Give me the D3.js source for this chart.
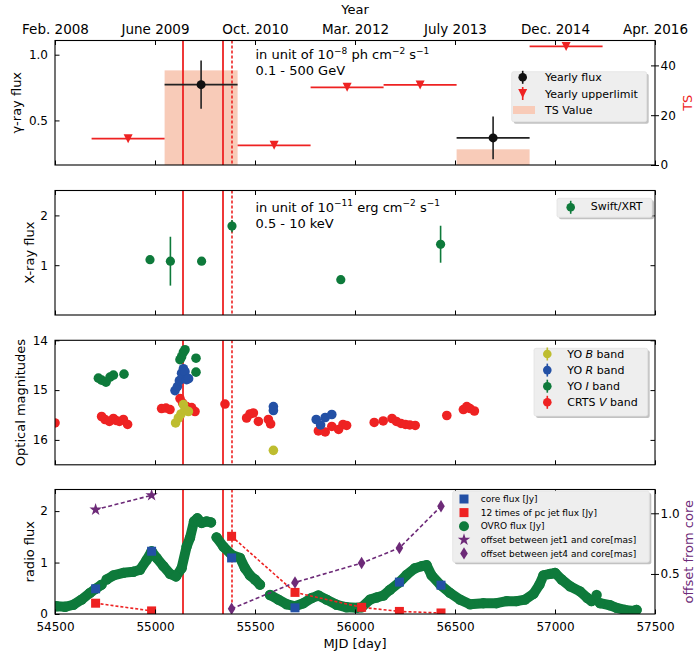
<!DOCTYPE html>
<html><head><meta charset="utf-8">
<script src="https://cdn.jsdelivr.net/npm/d3@7"></script>
<style>body{margin:0;background:#fff} svg{display:block} text{font-family:"DejaVu Sans",sans-serif}</style>
</head><body><svg id="c" width="694" height="654"></svg>
<script>
// ---------------- data ----------------
const mjdTicks=[54500,55000,55500,56000,56500,57000,57500];
const yearLabels=["Feb. 2008","June 2009","Oct. 2010","Mar. 2012","July 2013","Dec. 2014","Apr. 2016"];
const flareSolid=[55140,55340];
const flareDashed=[55385];

// gamma-ray yearly bins
const gammaFluxStart=[55048,56508];
const gammaFluxEnd=[55413,56873];
const gammaFluxVal=[0.772,0.367];
const gammaFluxErr=[0.183,0.162];
const gammaULStart=[54683,55413,55778,56143,56873];
const gammaULEnd=[55048,55778,56143,56508,57238];
const gammaULVal=[0.361,0.311,0.752,0.77,1.063];
const tsStart=[55048,56508];
const tsEnd=[55413,56873];
const tsVal=[38,6.3];

// X-ray (Swift/XRT)
const xrayMJD=[54975,55077,55233,55385,55929,56428];
const xrayFlux=[1.11,1.08,1.08,1.785,0.71,1.42];
const xrayErr=[0.03,0.49,0.03,0.125,0.03,0.37];

// optical magnitudes
const bMJD=[55103,55117,55130,55142,55150,55167,55592];
const bMag=[15.66,15.56,15.48,15.29,15.39,15.43,16.21];
const rMJD=[55100,55112,55122,55133,55142,55150,55158,55168,55592,55592,55806,55828,55851,55884];
const rMag=[15.01,14.93,14.81,14.66,14.57,14.63,14.79,14.77,15.33,15.41,15.59,15.7,15.55,15.49];
const iMJD=[54717,54733,54755,54775,54792,54845,55125,55133,55142,55150,55205,55205];
const iMag=[14.76,14.8,14.84,14.74,14.7,14.68,14.39,14.33,14.24,14.19,14.36,14.64];
const vMJD=[54500,54733,54750,54772,54792,54805,54822,54842,54863,55033,55055,55075,55125,55138,55158,55183,55200,55350,
  55458,55475,55492,55517,55567,55578,55817,55851,55884,55918,55940,55958,56096,56141,56185,56207,56230,56252,56274,56301,
  56459,56542,56559,56575,56597];
const vMag=[15.66,15.53,15.59,15.63,15.57,15.61,15.63,15.59,15.69,15.37,15.36,15.39,15.17,15.26,15.33,15.35,15.43,15.28,
  15.56,15.48,15.46,15.63,15.59,15.68,15.82,15.84,15.73,15.79,15.69,15.71,15.65,15.62,15.57,15.63,15.67,15.69,15.7,15.71,
  15.51,15.39,15.33,15.37,15.42];

// radio
const ovroMJD=[54508,54550,54592,54633,54675,54703,54733,
  54758,54792,54842,54892,54925,54958,54983,55008,55042,55075,55105,55133,55158,55175,55195,55212,55233,55258,55280,
  55308,55342,55383,55425,55450,55475,55500,55525,
  55575,55617,55658,55700,55742,55783,55817,55858,55908,55958,56008,56033,56075,56108,56142,56175,56220,56258,56300,56333,56358,
  56383,56428,56475,56525,56575,56642,56708,56758,56808,56850,56892,56922,56942,56975,57000,57033,57075,57125,57162,57183,
  57208,
  57225,57275,57308,57350,57392,57408];
const ovroFlux=[0.15,0.14,0.18,0.28,0.41,0.49,0.57,
  0.67,0.75,0.8,0.82,0.86,1.05,1.22,1.09,0.93,0.78,0.73,0.89,1.31,1.48,1.8,1.86,1.77,1.8,1.78,
  1.49,1.31,1.15,1.09,0.89,0.75,0.67,0.57,
  0.37,0.28,0.19,0.15,0.21,0.31,0.36,0.28,0.18,0.13,0.12,0.13,0.28,0.32,0.36,0.47,0.61,0.76,0.89,0.93,0.95,
  0.75,0.56,0.41,0.28,0.19,0.21,0.21,0.25,0.25,0.28,0.39,0.57,0.75,0.78,0.8,0.67,0.54,0.44,0.31,0.25,
  0.37,
  0.21,0.17,0.12,0.08,0.06,0.08];
const ovroBreaks=[54745,55294,55550,57195,57215];
const coreMJD=[54703,54983,55383,55700,56222,56430];
const coreFlux=[0.49,1.22,1.09,0.12,0.62,0.56];
const jet1MJD=[54703,54983];
const jet1Flux12=[0.21,0.06];
const jet1Offset=[1.03,1.148];
const jet4MJD=[55383,55700,56033,56222,56430];
const jet4Flux12=[1.51,0.42,0.13,0.05,0.02];
const jet4Offset=[0.214,0.43,0.59,0.714,1.058];

// ---------------- drawing ----------------
const RED="#ee2222", GREEN="#0e7a3b", BLUE="#2350a5", OLIVE="#bebd2f", PURPLE="#6d2a78", TSCOL="#f8cbb8";
const svg=d3.select("#c");
const L=55,R=655,PH=124.5;
const tops=[40.5,190.5,340.3,489.5];
const x=d3.scaleLinear().domain([54500,57500]).range([L,R]);
const y1=d3.scaleLinear().domain([0.161,1.108]).range([tops[0]+PH,tops[0]]);
const y1r=d3.scaleLinear().domain([0,50]).range([tops[0]+PH,tops[0]]);
const y2=d3.scaleLinear().domain([0,2.5]).range([tops[1]+PH,tops[1]]);
const y3=d3.scaleLinear().domain([16.5,14]).range([tops[2]+PH,tops[2]]);
const y4=d3.scaleLinear().domain([0,2.42]).range([tops[3]+PH,tops[3]]);
const y4r=d3.scaleLinear().domain([0.17,1.196]).range([tops[3]+PH,tops[3]]);

const defs=svg.append("defs");
tops.forEach((t,i)=>{
  defs.append("clipPath").attr("id","clip"+i).append("rect").attr("x",L).attr("y",t).attr("width",R-L).attr("height",PH);
});
const layers=tops.map((t,i)=>svg.append("g").attr("clip-path",`url(#clip${i})`));

function style(g,fs){
  g.attr("font-size",fs).attr("font-family","DejaVu Sans");
  g.select(".domain").remove();
  g.selectAll("text").attr("fill","#000");
}

// axes
tops.forEach((t,i)=>{
  const b=t+PH;
  svg.append("g").attr("transform",`translate(0,${b})`)
    .call(d3.axisBottom(x).tickValues(mjdTicks).tickSize(-4.5).tickPadding(8.5)
      .tickFormat(i===3?d3.format("d"):()=>""))
    .call(g=>style(g,12));
  svg.append("g").attr("transform",`translate(0,${t})`)
    .call(d3.axisTop(x).tickValues(mjdTicks).tickSize(-4.5).tickPadding(6.5)
      .tickFormat(i===0?(d,j)=>yearLabels[j]:()=>""))
    .call(g=>style(g,13.5));
});
function leftAxis(i,ys,vals,fmt,rightToo){
  svg.append("g").attr("transform",`translate(${L},0)`)
    .call(d3.axisLeft(ys).tickValues(vals).tickSize(-4.5).tickPadding(7).tickFormat(fmt))
    .call(g=>style(g,12));
  if(rightToo){
    svg.append("g").attr("transform",`translate(${R},0)`)
      .call(d3.axisRight(ys).tickValues(vals).tickSize(-4.5).tickFormat(()=>""))
      .call(g=>style(g,12));
  }
}
function rightAxis(ys,vals,fmt){
  const g=svg.append("g").attr("transform",`translate(${R},0)`)
    .call(d3.axisRight(ys).tickValues(vals).tickSize(4).tickPadding(1.5).tickFormat(fmt))
    .call(g=>style(g,12));
  g.selectAll(".tick line").attr("x1",-4);
}
leftAxis(0,y1,[0.5,1.0],d3.format(".1f"),false);
rightAxis(y1r,[0,20,40],d3.format("d"));
leftAxis(1,y2,[1,2],d3.format("d"),true);
leftAxis(2,y3,[14,15,16],d3.format("d"),true);
leftAxis(3,y4,[0,1,2],d3.format("d"),false);
rightAxis(y4r,[0.5,1.0],d3.format(".1f"));

// ---- panel 1 ----
const g1=layers[0];
tsVal.forEach((v,k)=>{
  g1.append("rect").attr("x",x(tsStart[k])).attr("width",x(tsEnd[k])-x(tsStart[k]))
    .attr("y",y1r(v)).attr("height",y1r(0)-y1r(v)).attr("fill",TSCOL);
});
// flare lines in all panels
tops.forEach((t,i)=>{
  flareSolid.forEach(m=>layers[i].append("line").attr("x1",x(m)).attr("x2",x(m)).attr("y1",t).attr("y2",t+PH)
    .attr("stroke",RED).attr("stroke-width",1.8));
  flareDashed.forEach(m=>layers[i].append("line").attr("x1",x(m)).attr("x2",x(m)).attr("y1",t).attr("y2",t+PH)
    .attr("stroke",RED).attr("stroke-width",1.6).attr("stroke-dasharray","3,2"));
});
const triDown="M-4.5,-4.5L4.5,-4.5L0,4.5Z";
gammaULVal.forEach((v,k)=>{
  g1.append("line").attr("x1",x(gammaULStart[k])).attr("x2",x(gammaULEnd[k])).attr("y1",y1(v)).attr("y2",y1(v))
    .attr("stroke",RED).attr("stroke-width",1.8);
  g1.append("path").attr("d",triDown).attr("fill",RED)
    .attr("transform",`translate(${x((gammaULStart[k]+gammaULEnd[k])/2)},${y1(v)})`);
});
gammaFluxVal.forEach((v,k)=>{
  const cx=x((gammaFluxStart[k]+gammaFluxEnd[k])/2);
  g1.append("line").attr("x1",x(gammaFluxStart[k])).attr("x2",x(gammaFluxEnd[k])).attr("y1",y1(v)).attr("y2",y1(v))
    .attr("stroke","#222").attr("stroke-width",1.6);
  g1.append("line").attr("x1",cx).attr("x2",cx).attr("y1",y1(v-gammaFluxErr[k])).attr("y2",y1(v+gammaFluxErr[k]))
    .attr("stroke","#222").attr("stroke-width",1.6);
  g1.append("circle").attr("cx",cx).attr("cy",y1(v)).attr("r",4.5).attr("fill","#111");
});

// ---- panel 2 ----
const g2=layers[1];
xrayFlux.forEach((v,k)=>{
  g2.append("line").attr("x1",x(xrayMJD[k])).attr("x2",x(xrayMJD[k]))
    .attr("y1",y2(v-xrayErr[k])).attr("y2",y2(v+xrayErr[k])).attr("stroke",GREEN).attr("stroke-width",1.6);
  g2.append("circle").attr("cx",x(xrayMJD[k])).attr("cy",y2(v)).attr("r",4.6).attr("fill",GREEN);
});

// ---- panel 3 ----
const g3=layers[2];
function dots(g,ms,vs,ys,col,r){
  g.append("g").selectAll("circle").data(ms).join("circle")
    .attr("cx",d=>x(d)).attr("cy",(d,k)=>ys(vs[k])).attr("r",r).attr("fill",col);
}
dots(g3,vMJD,vMag,y3,RED,4.8);
dots(g3,bMJD,bMag,y3,OLIVE,4.8);
dots(g3,rMJD,rMag,y3,BLUE,4.8);
dots(g3,iMJD,iMag,y3,GREEN,4.8);

// ---- panel 4 ----
const g4=layers[3];
const segs=[];let cur=[];
ovroMJD.forEach((m,k)=>{
  if(k>0 && ovroBreaks.some(b=>b>ovroMJD[k-1] && b<m)){segs.push(cur);cur=[];}
  cur.push([m,ovroFlux[k]]);
});
segs.push(cur);
const line4=d3.line().x(d=>x(d[0])).y(d=>y4(d[1]));
segs.forEach(s=>{
  if(s.length>1) g4.append("path").attr("d",line4(s)).attr("fill","none").attr("stroke",GREEN)
    .attr("stroke-width",10).attr("stroke-linecap","round").attr("stroke-linejoin","round");
});
dots(g4,ovroMJD,ovroFlux,y4,GREEN,5.2);
function dashLine(g,ms,vs,ys,col,dash){
  g.append("path").attr("d",d3.line().x((d,k)=>x(ms[k])).y((d,k)=>ys(vs[k]))(ms))
    .attr("fill","none").attr("stroke",col).attr("stroke-width",1.6).attr("stroke-dasharray",dash);
}
dashLine(g4,jet1MJD,jet1Flux12,y4,RED,"3,2");
dashLine(g4,jet4MJD,jet4Flux12,y4,RED,"3,2");
dashLine(g4,jet1MJD,jet1Offset,y4r,PURPLE,"4,2.5");
dashLine(g4,jet4MJD,jet4Offset,y4r,PURPLE,"4,2.5");
function squares(g,ms,vs,ys,col){
  g.append("g").selectAll("rect").data(ms).join("rect")
    .attr("x",d=>x(d)-4.5).attr("y",(d,k)=>ys(vs[k])-4.5).attr("width",9).attr("height",9).attr("fill",col);
}
squares(g4,coreMJD,coreFlux,y4,BLUE);
squares(g4,jet1MJD,jet1Flux12,y4,RED);
squares(g4,jet4MJD,jet4Flux12,y4,RED);
const star=d3.symbol().type(d3.symbolStar).size(48)();
const diamond="M0,-6.2L3.8,0L0,6.2L-3.8,0Z";
jet1MJD.forEach((m,k)=>g4.append("path").attr("d",star).attr("fill",PURPLE)
  .attr("transform",`translate(${x(m)},${y4r(jet1Offset[k])})`));
jet4MJD.forEach((m,k)=>g4.append("path").attr("d",diamond).attr("fill",PURPLE)
  .attr("transform",`translate(${x(m)},${y4r(jet4Offset[k])})`));

// spines
tops.forEach(t=>svg.append("rect").attr("x",L).attr("y",t).attr("width",R-L).attr("height",PH)
  .attr("fill","none").attr("stroke","#000").attr("stroke-width",1.1));

// axis labels
function vlabel(txt,xb,yc,col){
  svg.append("text").attr("transform",`translate(${xb},${yc}) rotate(-90)`).attr("text-anchor","middle")
    .attr("font-size",13).attr("fill",col||"#000").text(txt);
}
vlabel("γ-ray flux",21,tops[0]+PH/2);
vlabel("X-ray flux",34,tops[1]+PH/2);
vlabel("Optical magnitudes",25,tops[2]+PH/2);
vlabel("radio flux",34,tops[3]+PH/2);
vlabel("TS",692,tops[0]+PH/2,RED);
vlabel("offset from core",692.5,tops[3]+PH/2,PURPLE);
svg.append("text").attr("x",(L+R)/2).attr("y",14).attr("text-anchor","middle").attr("font-size",13).text("Year");
svg.append("text").attr("x",(L+R)/2).attr("y",648).attr("text-anchor","middle").attr("font-size",13).text("MJD [day]");

// annotations with superscripts
function unitText(x0,yb,exp,rest){
  const t=svg.append("text").attr("x",x0).attr("y",yb).attr("font-size",13);
  t.append("tspan").text("in unit of 10");
  t.append("tspan").attr("dy",-5.5).attr("font-size",9).text(exp);
  rest.forEach(([s,e])=>{
    t.append("tspan").attr("dy",5.5).attr("font-size",13).text(s);
    t.append("tspan").attr("dy",-5.5).attr("font-size",9).text(e);
  });
}
unitText(255.5,59,"−8",[[" ph cm","−2"],[" s","−1"]]);
svg.append("text").attr("x",255.5).attr("y",75).attr("font-size",13).text("0.1 - 500 GeV");
unitText(255.5,211.5,"−11",[[" erg cm","−2"],[" s","−1"]]);
svg.append("text").attr("x",255.5).attr("y",227.5).attr("font-size",13).text("0.5 - 10 keV");

// legends
function legendBox(x0,y0,w,h){
  svg.append("rect").attr("x",x0+2).attr("y",y0+2).attr("width",w).attr("height",h).attr("rx",2)
    .attr("fill","#9a9a9a").attr("opacity",0.6);
  svg.append("rect").attr("x",x0).attr("y",y0).attr("width",w).attr("height",h).attr("rx",2)
    .attr("fill","#eeeeee").attr("stroke","#e2e2e2").attr("stroke-width",0.8);
}
function legText(x0,yc,parts,fs){
  const t=svg.append("text").attr("x",x0).attr("y",yc).attr("dy","0.36em").attr("font-size",fs);
  parts.forEach(p=>{const s=t.append("tspan").text(p.t||p); if(p.i) s.attr("font-style","italic");});
}
function errMark(cx,cy,col,r){
  svg.append("line").attr("x1",cx).attr("x2",cx).attr("y1",cy-6.5).attr("y2",cy+6.5).attr("stroke",col).attr("stroke-width",1.6);
  svg.append("circle").attr("cx",cx).attr("cy",cy).attr("r",r).attr("fill",col);
}
// panel 1 legend
legendBox(511.7,71.7,135,50);
errMark(522.7,77.3,"#111",4.3);
svg.append("line").attr("x1",522.7).attr("x2",522.7).attr("y1",87).attr("y2",100).attr("stroke",RED).attr("stroke-width",1.6);
svg.append("path").attr("d",triDown).attr("fill",RED).attr("transform","translate(522.7,93.6)");
svg.append("rect").attr("x",513).attr("y",106).attr("width",22).attr("height",8).attr("fill",TSCOL);
legText(545,77.3,["Yearly flux"],11);
legText(545,93.6,["Yearly upperlimit"],11);
legText(545,110,["TS Value"],11);
// panel 2 legend
legendBox(557,198.3,95,19);
errMark(570.7,207.3,GREEN,4.3);
legText(590.7,206.5,["Swift/XRT"],11);
// panel 3 legend
legendBox(534,348.3,113.7,67.7);
const l3=[[OLIVE,"B"],[BLUE,"R"],[GREEN,"I"],[RED,"V"]];
l3.forEach(([c,b],k)=>{
  const yc=354+k*16.1;
  errMark(547.3,yc,c,4.3);
  legText(567.3,yc,[k===3?"CRTS ":"YO ",{t:b,i:true}," band"],11);
});
// panel 4 legend
legendBox(452.7,491,196.6,71.3);
const l4y=k=>499+k*13.6;
svg.append("rect").attr("x",464-4.5).attr("y",l4y(0)-4.5).attr("width",9).attr("height",9).attr("fill",BLUE);
svg.append("rect").attr("x",464-4.5).attr("y",l4y(1)-4.5).attr("width",9).attr("height",9).attr("fill",RED);
svg.append("circle").attr("cx",464).attr("cy",l4y(2)).attr("r",5).attr("fill",GREEN);
svg.append("path").attr("d",star).attr("fill",PURPLE).attr("transform",`translate(464,${l4y(3)})`);
svg.append("path").attr("d",diamond).attr("fill",PURPLE).attr("transform",`translate(464,${l4y(4)})`);
["core flux [Jy]","12 times of pc jet flux [Jy]","OVRO flux [Jy]","offset between jet1 and core[mas]","offset between jet4 and core[mas]"]
  .forEach((s,k)=>legText(480.7,l4y(k),[s],9));
</script></body></html>
